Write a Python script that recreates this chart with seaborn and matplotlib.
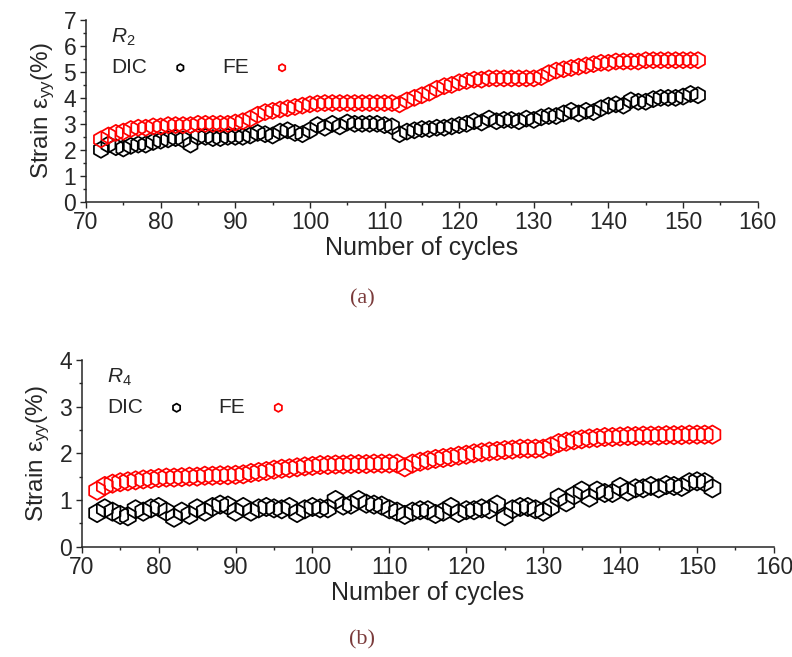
import numpy as np
import pandas as pd
import matplotlib
matplotlib.use("Agg")
import matplotlib.pyplot as plt
import seaborn as sns
from matplotlib.ticker import MultipleLocator

cycles = list(range(72, 153))

# panel (a), R2
fe_r2 = [2.40, 2.55, 2.65, 2.70, 2.80, 2.85, 2.85, 2.90, 2.90, 2.95,
         2.95, 2.95, 2.95, 3.00, 3.00, 3.00, 3.00, 3.00, 3.05, 3.10,
         3.20, 3.35, 3.45, 3.50, 3.55, 3.60, 3.65, 3.70, 3.75, 3.78,
         3.80, 3.80, 3.80, 3.80, 3.80, 3.80, 3.80, 3.80, 3.80, 3.80,
         3.75, 3.90, 4.00, 4.10, 4.20, 4.35, 4.45, 4.50, 4.60, 4.65,
         4.70, 4.70, 4.75, 4.75, 4.75, 4.75, 4.75, 4.75, 4.75, 4.80,
         4.95, 5.05, 5.10, 5.15, 5.20, 5.25, 5.30, 5.35, 5.35, 5.40,
         5.40, 5.40, 5.40, 5.45, 5.45, 5.45, 5.45, 5.45, 5.45, 5.45,
         5.45]
dic_r2 = [2.00, 2.20, 2.10, 2.05, 2.15, 2.20, 2.20, 2.30, 2.35, 2.40,
          2.45, 2.40, 2.20, 2.50, 2.50, 2.45, 2.45, 2.50, 2.50, 2.50,
          2.55, 2.65, 2.60, 2.55, 2.70, 2.75, 2.65, 2.60, 2.75, 2.95,
          2.85, 3.00, 2.90, 3.05, 3.00, 3.00, 3.00, 3.00, 2.95, 2.90,
          2.60, 2.70, 2.75, 2.80, 2.80, 2.85, 2.85, 2.90, 2.95, 3.00,
          3.10, 3.05, 3.20, 3.10, 3.15, 3.15, 3.10, 3.20, 3.15, 3.25,
          3.30, 3.30, 3.40, 3.50, 3.40, 3.50, 3.45, 3.60, 3.70, 3.75,
          3.70, 3.90, 3.85, 3.85, 3.95, 4.00, 4.00, 4.00, 4.05, 4.15,
          4.10]

# panel (b), R4
fe_r4 = [1.20, 1.30, 1.35, 1.38, 1.40, 1.42, 1.44, 1.45, 1.47, 1.48,
         1.48, 1.49, 1.50, 1.50, 1.52, 1.52, 1.53, 1.53, 1.54, 1.55,
         1.58, 1.60, 1.62, 1.65, 1.67, 1.68, 1.70, 1.72, 1.73, 1.75,
         1.75, 1.76, 1.76, 1.77, 1.77, 1.77, 1.78, 1.78, 1.78, 1.78,
         1.70, 1.78, 1.82, 1.85, 1.88, 1.90, 1.92, 1.95, 1.97, 2.00,
         2.02, 2.04, 2.05, 2.07, 2.08, 2.10, 2.10, 2.10, 2.10, 2.15,
         2.22, 2.25, 2.28, 2.30, 2.32, 2.33, 2.35, 2.35, 2.36, 2.37,
         2.37, 2.38, 2.38, 2.38, 2.39, 2.39, 2.39, 2.40, 2.40, 2.40,
         2.40]
dic_r4 = [0.72, 0.82, 0.75, 0.68, 0.65, 0.80, 0.75, 0.82, 0.85, 0.75,
          0.62, 0.75, 0.68, 0.82, 0.75, 0.85, 0.90, 0.88, 0.75, 0.85,
          0.75, 0.82, 0.85, 0.82, 0.80, 0.85, 0.72, 0.80, 0.85, 0.82,
          0.82, 1.00, 0.88, 0.90, 1.00, 0.92, 0.90, 0.88, 0.80, 0.75,
          0.68, 0.75, 0.78, 0.78, 0.70, 0.75, 0.85, 0.72, 0.78, 0.78,
          0.82, 0.80, 0.90, 0.65, 0.80, 0.85, 0.85, 0.80, 0.75, 0.85,
          1.05, 0.95, 1.10, 1.20, 1.05, 1.20, 1.15, 1.15, 1.28, 1.18,
          1.25, 1.25, 1.30, 1.25, 1.32, 1.30, 1.28, 1.38, 1.40, 1.38,
          1.25]

sns.set_style("ticks")
plt.rcParams['font.family'] = ['Liberation Sans', 'DejaVu Sans']
plt.rcParams['mathtext.fontset'] = 'custom'
plt.rcParams['mathtext.rm'] = 'Liberation Sans'
plt.rcParams['mathtext.it'] = 'Liberation Sans:italic'

fig = plt.figure(figsize=(7.92, 6.57), dpi=100)
ax1 = fig.add_axes([0.1086, 0.693, 0.8481, 0.2766])
ax2 = fig.add_axes([0.1032, 0.168, 0.874, 0.284])


def draw_panel(ax, dic, fe, tag, ymax, msize):
    df = pd.DataFrame({'cycle': cycles, 'DIC': dic, 'FE': fe})
    sns.scatterplot(data=df, x='cycle', y='DIC', ax=ax, marker='h', s=msize,
                    facecolor='none', edgecolor='black', linewidth=1.25,
                    label='DIC')
    sns.scatterplot(data=df, x='cycle', y='FE', ax=ax, marker='h', s=msize,
                    facecolor='none', edgecolor='red', linewidth=1.25,
                    label='FE')
    ax.set_xlim(70, 160)
    ax.set_ylim(0, ymax)
    ax.xaxis.set_major_locator(MultipleLocator(10))
    ax.xaxis.set_minor_locator(MultipleLocator(5))
    ax.yaxis.set_major_locator(MultipleLocator(1))
    ax.yaxis.set_minor_locator(MultipleLocator(0.5))
    ax.tick_params(which='major', direction='out', length=4, width=1,
                   labelsize=16.5, pad=3)
    ax.tick_params(which='minor', direction='out', length=2.5, width=1)
    for s in ['top', 'right']:
        ax.spines[s].set_visible(False)
    for s in ['left', 'bottom']:
        ax.spines[s].set_linewidth(1.1)
    ax.set_xlabel('Number of cycles', fontsize=18, labelpad=1)
    ax.set_ylabel('Strain ε$_\\mathregular{yy}$(%)', fontsize=17.5,
                  labelpad=5)
    ax.legend(ncol=2, loc='upper left', frameon=False,
              markerfirst=False, markerscale=0.45, fontsize=15,
              title=tag, title_fontsize=15, alignment='left',
              columnspacing=0.9, handletextpad=0.5, handlelength=2.2,
              bbox_to_anchor=(0.025, 1.01), borderaxespad=0)


draw_panel(ax1, dic_r2, fe_r2, '$R_\\mathregular{2}$', 7, 135)
draw_panel(ax2, dic_r4, fe_r4, '$R_\\mathregular{4}$', 4, 175)

fig.text(0.457, 0.545, '(a)', fontsize=16, color='#7b3b3b',
         family='Liberation Serif', ha='center', va='center')
fig.text(0.457, 0.026, '(b)', fontsize=16, color='#7b3b3b',
         family='Liberation Serif', ha='center', va='center')

fig.savefig('out.png', dpi=100)
